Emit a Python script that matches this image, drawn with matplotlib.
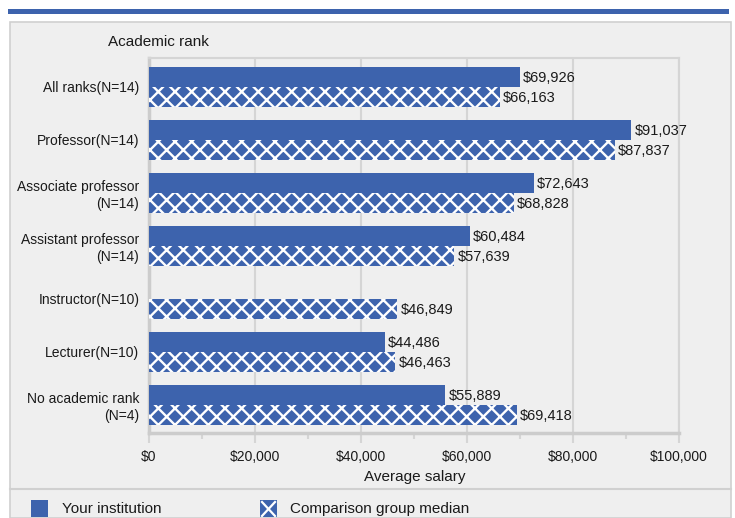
import matplotlib
matplotlib.use("Agg")
import matplotlib.pyplot as plt
from matplotlib.patches import Rectangle
from matplotlib.ticker import MultipleLocator, FuncFormatter
import numpy as np

plt.rcParams['font.family'] = ['Liberation Sans', 'DejaVu Sans']
plt.rcParams['hatch.linewidth'] = 1.7

categories = ["All ranks(N=14)", "Professor(N=14)", "Associate professor\n(N=14)",
              "Assistant professor\n(N=14)", "Instructor(N=10)", "Lecturer(N=10)",
              "No academic rank\n(N=4)"]
your_institution = [69926, 91037, 72643, 60484, None, 44486, 55889]
comparison_median = [66163, 87837, 68828, 57639, 46849, 46463, 69418]
series_names = ["Your institution", "Comparison group median"]

BLUE = "#3d63ad"
BG = "#efefef"
GRID = "#d5d5d5"
TXT = "#1a1a1a"

W, H = 735, 518
fig = plt.figure(figsize=(W / 100, H / 100), dpi=100)
fig.patch.set_facecolor("white")

# panel background
fig.add_artist(Rectangle((10 / W, 0), 721 / W, 1 - 22 / H, transform=fig.transFigure,
                         facecolor=BG, edgecolor="#d0d0d0", linewidth=1.2, zorder=0))
# top blue band
fig.add_artist(Rectangle((8 / W, 1 - 14 / H), 721 / W, 5 / H, transform=fig.transFigure,
                         facecolor=BLUE, edgecolor="none", zorder=1))
# separator line above legend
fig.add_artist(plt.Line2D([10 / W, 731 / W], [1 - 489 / H, 1 - 489 / H], transform=fig.transFigure,
                          color="#d0d0d0", linewidth=1.5))

ax = fig.add_axes([149 / W, 1 - 433 / H, 530 / W, 375 / H])
ax.set_facecolor(BG)

y = np.arange(len(categories))
h = 0.385
for i in range(len(categories)):
    v = your_institution[i]
    if v is not None:
        ax.barh(y[i] - h / 2, v, height=h, color=BLUE, edgecolor="none", zorder=3)
        ax.text(v + 600, y[i] - h / 2 + 0.02, "${:,}".format(v), va="center", ha="left",
                fontsize=10.5, color=TXT, zorder=4)
    c = comparison_median[i]
    ax.barh(y[i] + h / 2, c, height=h, color=BLUE, edgecolor="white",
            linewidth=0, hatch="xx", zorder=3)
    ax.text(c + 600, y[i] + h / 2 + 0.02, "${:,}".format(c),
            va="center", ha="left", fontsize=10.5, color=TXT, zorder=4)

ax.set_xlim(0, 100000)
ax.set_ylim(6.53, -0.547)
ax.set_yticks(y)
ax.set_yticklabels(categories, fontsize=10, color=TXT, ha="right", multialignment="right")
ax.tick_params(axis="y", length=0, pad=7)
ax.xaxis.set_major_locator(MultipleLocator(20000))
ax.xaxis.set_minor_locator(MultipleLocator(10000))
ax.xaxis.set_major_formatter(FuncFormatter(lambda v, p: "${:,.0f}".format(v)))
ax.tick_params(axis="x", which="major", length=7, width=1.5, color=GRID, labelsize=10,
               labelcolor=TXT, pad=5)
ax.tick_params(axis="x", which="minor", length=4, width=1.5, color=GRID)
ax.grid(axis="x", which="major", color=GRID, linewidth=1.5, zorder=0)
ax.set_axisbelow(True)
for s in ["top", "right"]:
    ax.spines[s].set_color(GRID)
    ax.spines[s].set_linewidth(1.5)
for s in ["left", "bottom"]:
    ax.spines[s].set_color("#cccccc")
    ax.spines[s].set_linewidth(2.5)

fig.text(108 / W, 1 - 42 / H, "Academic rank", fontsize=11, color=TXT, ha="left", va="center")
fig.text(415 / W, 1 - 477 / H, "Average salary", fontsize=11, color=TXT, ha="center", va="center")

# legend
fig.add_artist(Rectangle((31 / W, 1 - 517 / H), 17 / W, 17 / H, transform=fig.transFigure,
                         facecolor=BLUE, edgecolor="none"))
fig.text(62 / W, 1 - 509 / H, series_names[0], fontsize=11, color=TXT, ha="left", va="center")
fig.add_artist(Rectangle((260 / W, 1 - 517 / H), 17 / W, 17 / H, transform=fig.transFigure,
                         facecolor=BLUE, edgecolor="none"))
fig.add_artist(plt.Line2D([262 / W, 275 / W], [1 - 502 / H, 1 - 516 / H], transform=fig.transFigure,
                          color="white", linewidth=1.6))
fig.add_artist(plt.Line2D([262 / W, 275 / W], [1 - 516 / H, 1 - 502 / H], transform=fig.transFigure,
                          color="white", linewidth=1.6))
fig.text(290 / W, 1 - 509 / H, series_names[1], fontsize=11, color=TXT, ha="left", va="center")

fig.savefig("out.png", dpi=100, facecolor="white")
